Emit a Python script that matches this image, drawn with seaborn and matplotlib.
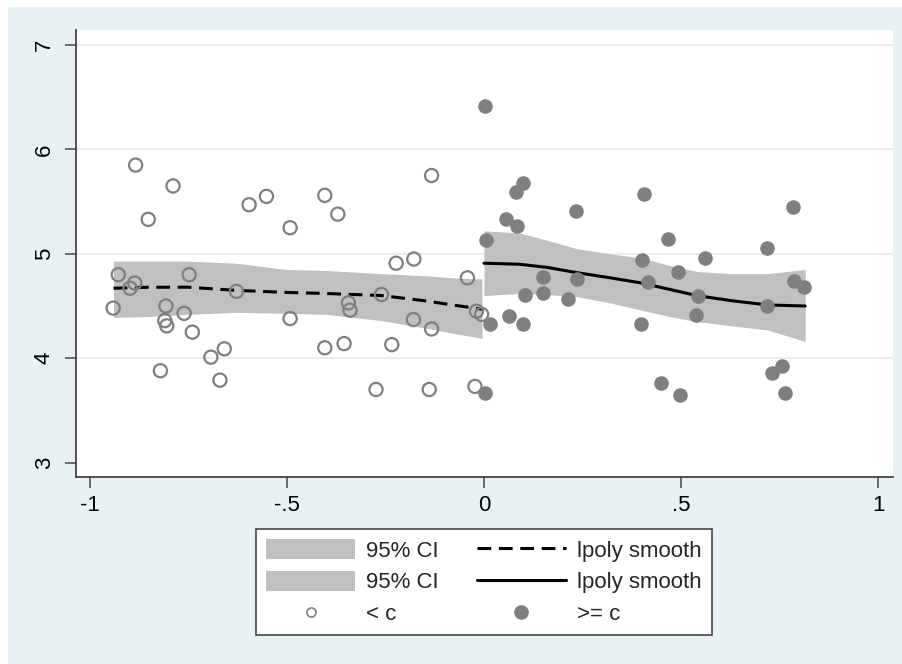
import numpy as np
import pandas as pd
import matplotlib
matplotlib.use("Agg")
import matplotlib.pyplot as plt
from matplotlib.patches import Rectangle, Patch
from matplotlib.lines import Line2D
import seaborn as sns

# ---- data: points below cutoff (hollow) ----
below_x = [-0.884, -0.789, -0.852, -0.596, -0.552, -0.492, -0.928, -0.886, -0.898,
           -0.748, -0.628, -0.941, -0.807, -0.810, -0.805, -0.761, -0.740, -0.492,
           -0.659, -0.693, -0.821, -0.670, -0.404, -0.371, -0.133, -0.223, -0.178,
           -0.042, -0.260, -0.344, -0.340, -0.179, -0.133, -0.019, -0.006, -0.404,
           -0.355, -0.234, -0.274, -0.139, -0.023]
below_y = [5.85, 5.65, 5.33, 5.47, 5.55, 5.25, 4.80, 4.72, 4.67,
           4.80, 4.64, 4.48, 4.50, 4.36, 4.31, 4.43, 4.25, 4.38,
           4.09, 4.01, 3.88, 3.79, 5.56, 5.38, 5.75, 4.91, 4.95,
           4.77, 4.61, 4.53, 4.46, 4.37, 4.28, 4.45, 4.42, 4.10,
           4.14, 4.13, 3.70, 3.70, 3.73]

# ---- data: points at/above cutoff (filled) ----
above_x = [0.002, 0.100, 0.081, 0.056, 0.083, 0.005, 0.234, 0.406, 0.400, 0.415,
           0.149, 0.235, 0.104, 0.149, 0.214, 0.015, 0.063, 0.100, 0.398, 0.002,
           0.450, 0.785, 0.466, 0.717, 0.561, 0.493, 0.787, 0.812, 0.542, 0.717,
           0.538, 0.756, 0.732, 0.497, 0.764]
above_y = [6.42, 5.68, 5.59, 5.33, 5.27, 5.13, 5.41, 5.57, 4.94, 4.73,
           4.78, 4.76, 4.61, 4.62, 4.57, 4.33, 4.40, 4.33, 4.33, 3.67,
           3.76, 5.45, 5.14, 5.06, 4.96, 4.83, 4.74, 4.68, 4.60, 4.50,
           4.41, 3.93, 3.86, 3.65, 3.67]

# ---- local polynomial smooth and 95% CI, left of cutoff ----
left_grid = [-0.94, -0.85, -0.75, -0.63, -0.50, -0.40, -0.26, -0.15, -0.08, -0.005]
left_fit = [4.67, 4.68, 4.68, 4.65, 4.63, 4.62, 4.60, 4.55, 4.51, 4.47]
left_lo = [4.39, 4.40, 4.42, 4.44, 4.43, 4.42, 4.36, 4.29, 4.24, 4.19]
left_hi = [4.93, 4.93, 4.93, 4.91, 4.85, 4.84, 4.81, 4.79, 4.77, 4.76]

# ---- local polynomial smooth and 95% CI, right of cutoff ----
right_grid = [0.0, 0.09, 0.16, 0.235, 0.32, 0.40, 0.47, 0.54, 0.63, 0.72, 0.815]
right_fit = [4.91, 4.90, 4.87, 4.82, 4.77, 4.72, 4.66, 4.60, 4.55, 4.51, 4.50]
right_lo = [4.60, 4.62, 4.61, 4.59, 4.53, 4.46, 4.40, 4.35, 4.31, 4.27, 4.16]
right_hi = [5.22, 5.20, 5.13, 5.05, 5.00, 4.96, 4.89, 4.83, 4.81, 4.81, 4.85]

x_ticks = [-1, -0.5, 0, 0.5, 1]
x_tick_labels = ["-1", "-.5", "0", ".5", "1"]
y_ticks = [3, 4, 5, 6, 7]
y_tick_labels = ["3", "4", "5", "6", "7"]

sns.set_style("white")
plt.rcParams["font.family"] = ["Liberation Sans", "DejaVu Sans"]

W, H = 903, 664
fig = plt.figure(figsize=(W / 100, H / 100), dpi=100, facecolor="white")
bg = "#e8f1f4"
fig.patches.append(Rectangle((8 / W, 0), 1 - 8 / W, 1 - 7 / H, transform=fig.transFigure,
                             facecolor=bg, edgecolor="none", zorder=-10))

ax = fig.add_axes([75.7 / W, 1 - 477 / H, (892.7 - 75.7) / W, (477 - 30) / H])
ax.set_facecolor("white")

band_col = "#c0c0c0"
pt_col = "#7f7f7f"

ax.fill_between(left_grid, left_lo, left_hi, color=band_col, linewidth=0, zorder=1)
ax.fill_between(right_grid, right_lo, right_hi, color=band_col, linewidth=0, zorder=1)

df_l = pd.DataFrame({"x": left_grid, "y": left_fit})
df_r = pd.DataFrame({"x": right_grid, "y": right_fit})
sns.lineplot(data=df_l, x="x", y="y", ax=ax, color="black", linewidth=2.2,
             linestyle=(0, (4.5, 2.5)), zorder=3)
sns.lineplot(data=df_r, x="x", y="y", ax=ax, color="black", linewidth=2.2, zorder=3)

df_b = pd.DataFrame({"x": below_x, "y": below_y})
df_a = pd.DataFrame({"x": above_x, "y": above_y})
sns.scatterplot(data=df_b, x="x", y="y", ax=ax, marker="o", s=90,
                facecolor="none", edgecolor=pt_col, linewidth=1.6, zorder=4)
sns.scatterplot(data=df_a, x="x", y="y", ax=ax, marker="o", s=110,
                color=pt_col, edgecolor=pt_col, linewidth=0, zorder=4)

ax.set_xlim(-1.036, 1.037)
ax.set_ylim(2.862, 7.144)
ax.set_xticks(x_ticks)
ax.set_xticklabels(x_tick_labels)
ax.set_yticks(y_ticks)
ax.set_yticklabels(y_tick_labels, rotation=90, va="center")
ax.set_xlabel("")
ax.set_ylabel("")

for g in [4, 5, 6, 7]:
    ax.axhline(g, color="#eaeaea", linewidth=1.3, zorder=0)

for s in ["top", "right"]:
    ax.spines[s].set_visible(False)
for s in ["left", "bottom"]:
    ax.spines[s].set_color("#444444")
    ax.spines[s].set_linewidth(1.3)
ax.tick_params(axis="both", which="both", direction="out", length=8, width=1.2,
               color="#555555", labelsize=16, labelcolor="black", pad=6)
ax.tick_params(axis="x", bottom=True, pad=5)
ax.tick_params(axis="y", left=True, pad=7)

handles = [
    Patch(facecolor=band_col, edgecolor="none"),
    Patch(facecolor=band_col, edgecolor="none"),
    Line2D([], [], linestyle="none", marker="o", markersize=6.5, markerfacecolor="none",
           markeredgecolor=pt_col, markeredgewidth=1.2),
    Line2D([], [], color="black", linewidth=2.2, linestyle=(0, (4.5, 2.5))),
    Line2D([], [], color="black", linewidth=2.2),
    Line2D([], [], linestyle="none", marker="o", markersize=9.5, markerfacecolor=pt_col,
           markeredgecolor=pt_col),
]
labels = ["95% CI", "95% CI", "< c", "lpoly smooth", "lpoly smooth", ">= c"]
leg = fig.legend(handles, labels, ncol=2, loc="upper center",
                 bbox_to_anchor=(484 / W, 1 - 529 / H), fontsize=16,
                 frameon=True, fancybox=False, edgecolor="#444444", facecolor="white",
                 framealpha=1, handlelength=4.0, handleheight=1.0, handletextpad=0.5,
                 columnspacing=1.7, labelspacing=0.42, borderpad=0.45,
                 borderaxespad=0)
leg.get_frame().set_linewidth(1.2)

fig.savefig("out.png", dpi=100, facecolor=fig.get_facecolor())
